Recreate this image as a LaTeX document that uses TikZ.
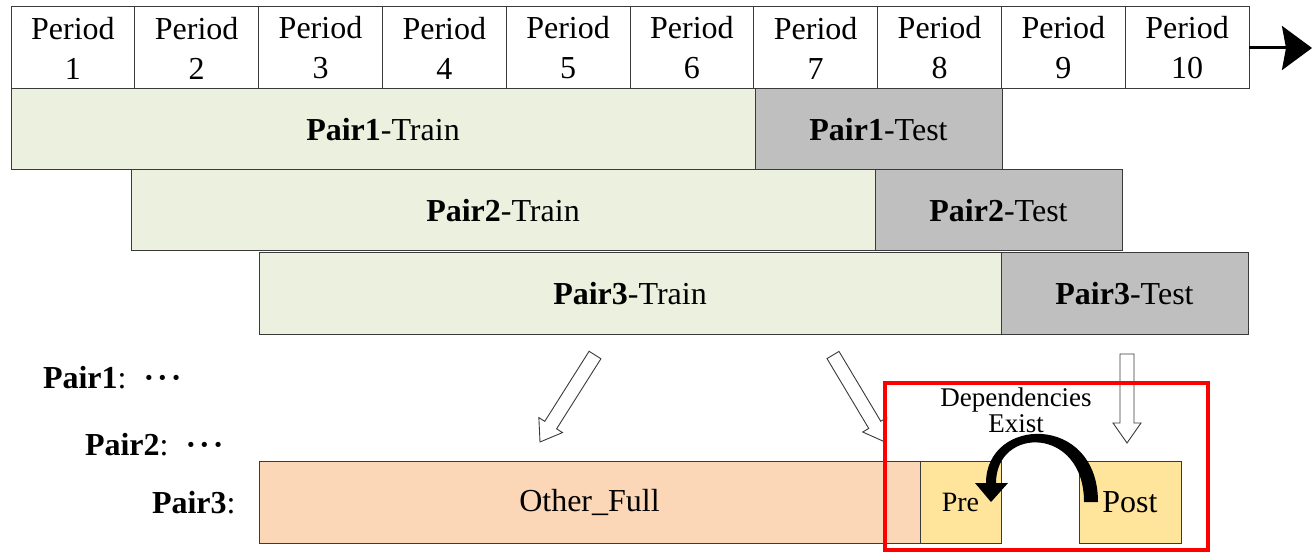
\documentclass[tikz,border=0pt]{standalone}
\usepackage{fontspec}
\setmainfont{Liberation Serif}
\usetikzlibrary{arrows.meta,calc}

\definecolor{trainfill}{HTML}{EBF1DE}
\definecolor{testfill}{HTML}{BFBFBF}
\definecolor{fullfill}{HTML}{FBD6B7}
\definecolor{prefill}{HTML}{FFE49C}
\definecolor{edge}{HTML}{3A3A3A}

% hollow block arrow from #1 to #2
\newcommand{\hollowarrow}[2]{%
  \coordinate (hh) at ($(#2)!20pt!(#1)$);
  \draw[hollow] ($(#1)!7pt!90:(#2)$) -- ($(hh)!7pt!90:(#2)$) -- ($(hh)!14pt!90:(#2)$)
    -- (#2) -- ($(hh)!14pt!-90:(#2)$) -- ($(hh)!7pt!-90:(#2)$) -- ($(#1)!7pt!-90:(#2)$) -- cycle;
}

\begin{document}
\begin{tikzpicture}[x=1pt,y=-1pt,
  every node/.style={inner sep=0pt, outer sep=0pt},
  txt/.style={font=\fontsize{32}{40}\selectfont},
  box/.style={txt, draw=edge, line width=1pt, anchor=north west, align=center},
  cell/.style={box, fill=white, minimum width=123.8pt, minimum height=82pt},
  trainbox/.style={box, fill=trainfill, minimum height=81pt},
  testbox/.style={box, fill=testfill, minimum height=81pt},
  fullbox/.style={box, fill=fullfill, minimum height=82pt},
  prebox/.style={box, fill=prefill, minimum height=82pt},
  hollow/.style={draw=edge, line width=0.9pt, fill=white, line join=miter},
  label/.style={txt, anchor=base west}
]
\useasboundingbox (0,0) rectangle (1312,553);

% time axis
\foreach \k in {1,...,10} {
  \node[cell] (per\k) at ({11+123.8*(\k-1)},7) {Period\\\k};
}
\coordinate (tend) at (1312,48);
\draw[line width=3pt, -{Stealth[length=30pt,width=44pt,inset=4pt]}] (per10.east) -- (tend);

% train / test windows
\node[trainbox, minimum width=744pt] (tr1) at (11,89)  {\textbf{Pair1}-Train};
\node[testbox,  minimum width=247pt] (te1) at (755,89) {\textbf{Pair1}-Test};
\node[trainbox, minimum width=744pt] (tr2) at (131,170) {\textbf{Pair2}-Train};
\node[testbox,  minimum width=247pt] (te2) at (875,170) {\textbf{Pair2}-Test};
\node[trainbox, minimum width=742pt, minimum height=82pt] (tr3) at (259,253) {\textbf{Pair3}-Train};
\node[testbox,  minimum width=247pt, minimum height=82pt] (te3) at (1001,253) {\textbf{Pair3}-Test};

% pair labels
\node[label] (lab1) at (43,388)  {\textbf{Pair1}:\hspace{17pt}\textbf{·\kern3pt·\kern3pt·}};
\node[label] (lab2) at (85,455)  {\textbf{Pair2}:\hspace{17pt}\textbf{·\kern3pt·\kern3pt·}};
\node[label] (lab3) at (152,513) {\textbf{Pair3}:};

% split of pair 3
\node[fullbox, minimum width=661pt] (full) at (259,461) {Other\_Full};
\node[prebox, minimum width=81pt, font=\fontsize{28}{28}\selectfont] (pre) at (920,461) {Pre};
\node[prebox, minimum width=102pt] (post) at (1079,461) {Post};

% hollow arrows
\coordinate (a1s) at (595,355); \coordinate (a1e) at (540,442);
\coordinate (a2s) at (833,355); \coordinate (a2e) at (885,442);
\coordinate (a3s) at (1127,354); \coordinate (a3e) at (1127,443);
\hollowarrow{a1s}{a1e}
\hollowarrow{a2s}{a2e}
\hollowarrow{a3s}{a3e}

% dependency highlight
\node[font=\fontsize{27}{26}\selectfont, align=center] (dep) at (1016,410) {Dependencies\\Exist};
\fill[black] (1098,502) .. controls (1098,413) and (986,416) .. (986,483)
  -- (975,483) -- (991,502) -- (1008,483) -- (996,483)
  .. controls (996,426) and (1084,426) .. (1084,502) -- cycle;
\draw[red, line width=4.5pt] (885,383) rectangle (1208,550);
\end{tikzpicture}
\end{document}
